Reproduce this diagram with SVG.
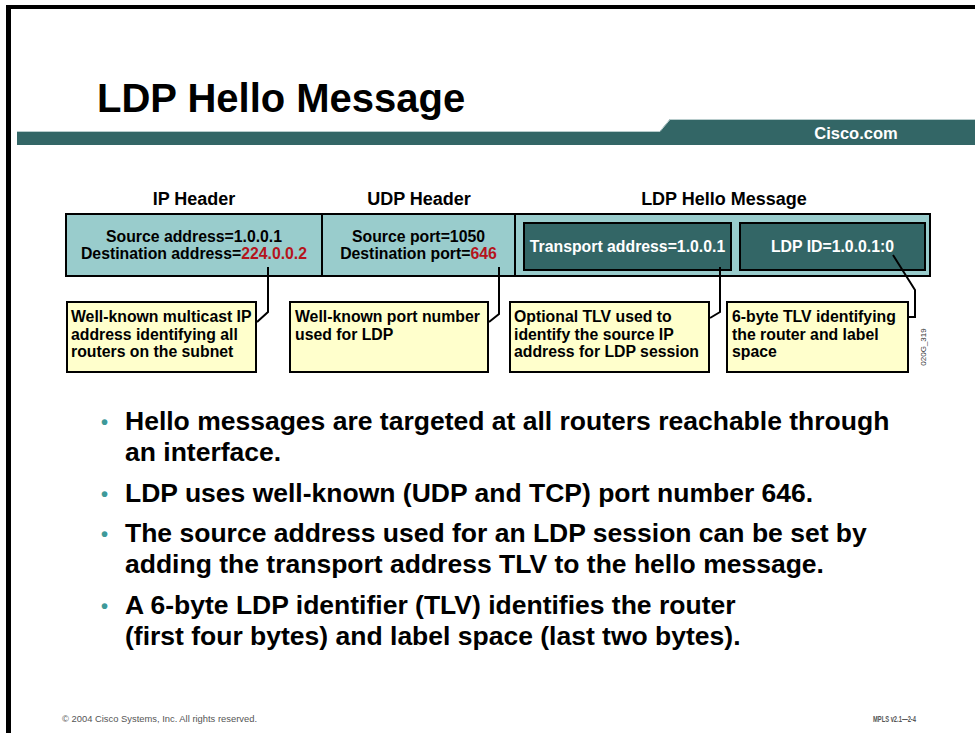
<svg xmlns="http://www.w3.org/2000/svg" width="975" height="733" viewBox="0 0 975 733">
<style>
.t{font-family:"Liberation Sans",Arial,sans-serif;font-weight:bold;}
.hdr{font-size:18px;fill:#000;text-anchor:middle;}
.fld{font-size:15.8px;fill:#000;text-anchor:middle;}
.wt{font-size:15.8px;fill:#fff;text-anchor:middle;}
.red{fill:#b5141c;}
.note{font-size:15.8px;fill:#000;}
.pkt{fill:#99cccc;stroke:#000;stroke-width:2;}
.tlv{fill:#336666;stroke:#000;stroke-width:2;}
.yel{fill:#ffffcc;stroke:#000;stroke-width:2;}
.con{fill:none;stroke:#000;stroke-width:2;stroke-linejoin:miter;}
.bl{font-size:26.5px;fill:#000;}
.dot{font-size:20px;fill:#3d9999;}
.ft{font-family:"Liberation Sans",Arial,sans-serif;font-size:9.5px;fill:#555;}
</style>
<rect x="0" y="0" width="975" height="733" fill="#fff"/>
<!-- slide frame -->
<rect x="6" y="5" width="969" height="4" fill="#000"/>
<rect x="6" y="5" width="5" height="728" fill="#000"/>
<!-- title -->
<text class="t" x="97" y="112" font-size="40" fill="#000">LDP Hello Message</text>
<!-- band -->
<path d="M17 131 L660 131 L670 119 L975 119 L975 145 L17 145 Z" fill="#336666"/>
<path d="M17 131.5 L660 131.5 L670 119.5 L975 119.5" fill="none" stroke="#b8cccc" stroke-width="1"/>
<text class="t" x="856" y="138.5" font-size="16.5" fill="#fff" text-anchor="middle">Cisco.com</text>

<!-- header labels -->
<text class="t hdr" x="194" y="205">IP Header</text>
<text class="t hdr" x="419" y="205">UDP Header</text>
<text class="t hdr" x="724" y="205">LDP Hello Message</text>

<g id="packet">
<rect class="pkt" x="66" y="214" width="864" height="62"/>
<line x1="322" y1="214" x2="322" y2="276" stroke="#000" stroke-width="2"/>
<line x1="515" y1="214" x2="515" y2="276" stroke="#000" stroke-width="2"/>
</g>
<g id="ip-header">
<text class="t fld" x="194" y="242">Source address=1.0.0.1</text>
<text class="t fld" x="194" y="259">Destination address=<tspan class="red">224.0.0.2</tspan></text>
</g>
<g id="udp-header">
<text class="t fld" x="418.5" y="242">Source port=1050</text>
<text class="t fld" x="418.5" y="259">Destination port=<tspan class="red">646</tspan></text>
</g>
<g id="transport-tlv">
<rect class="tlv" x="524" y="223" width="207" height="47"/>
<text class="t wt" x="627.5" y="251.5">Transport address=1.0.0.1</text>
</g>
<g id="ldpid-tlv">
<rect class="tlv" x="740" y="223" width="185" height="47"/>
<text class="t wt" x="832.5" y="251.5">LDP ID=1.0.0.1:0</text>
</g>

<g id="note-ip">
<rect class="yel" x="67" y="302" width="189" height="70"/>
<text class="t note" x="71" y="322">Well-known multicast IP</text>
<text class="t note" x="71" y="339.5">address identifying all</text>
<text class="t note" x="71" y="357">routers on the subnet</text>
</g>
<g id="note-udp">
<rect class="yel" x="290" y="302" width="198" height="70"/>
<text class="t note" x="295" y="322">Well-known port number</text>
<text class="t note" x="295" y="339.5">used for LDP</text>
</g>
<g id="note-transport">
<rect class="yel" x="510" y="302" width="199" height="70"/>
<text class="t note" x="514" y="322">Optional TLV used to</text>
<text class="t note" x="514" y="339.5">identify the source IP</text>
<text class="t note" x="514" y="357">address for LDP session</text>
</g>
<g id="note-ldpid">
<rect class="yel" x="727" y="302" width="181" height="70"/>
<text class="t note" x="732" y="322">6-byte TLV identifying</text>
<text class="t note" x="732" y="339.5">the router and label</text>
<text class="t note" x="732" y="357">space</text>
</g>

<g id="connectors">
<path class="con" d="M268 267 L268 312 L257 322"/>
<path class="con" d="M499 267 L499 314 L489 322"/>
<path class="con" d="M720 267 L720 312 L710 318"/>
<path class="con" d="M893 255 L915 290 L915 317 L909 317"/>
</g>

<text font-family="Liberation Sans,Arial,sans-serif" font-size="8" fill="#333" transform="translate(926 347) rotate(-90)" text-anchor="middle">020G_319</text>

<g id="bullets">
<text class="t dot" x="101" y="429">•</text>
<text class="t bl" x="125" y="430">Hello messages are targeted at all routers reachable through</text>
<text class="t bl" x="125" y="461">an interface.</text>
<text class="t dot" x="101" y="501">•</text>
<text class="t bl" x="125" y="502">LDP uses well-known (UDP and TCP) port number 646.</text>
<text class="t dot" x="101" y="541">•</text>
<text class="t bl" x="125" y="542">The source address used for an LDP session can be set by</text>
<text class="t bl" x="125" y="573">adding the transport address TLV to the hello message.</text>
<text class="t dot" x="101" y="613">•</text>
<text class="t bl" x="125" y="614">A 6-byte LDP identifier (TLV) identifies the router</text>
<text class="t bl" x="125" y="645">(first four bytes) and label space (last two bytes).</text>
</g>

<text class="ft" x="62" y="722" textLength="195" lengthAdjust="spacingAndGlyphs">© 2004 Cisco Systems, Inc. All rights reserved.</text>
<text class="ft" x="873" y="722" font-weight="bold" textLength="43" lengthAdjust="spacingAndGlyphs">MPLS v2.1—2-4</text>
</svg>
